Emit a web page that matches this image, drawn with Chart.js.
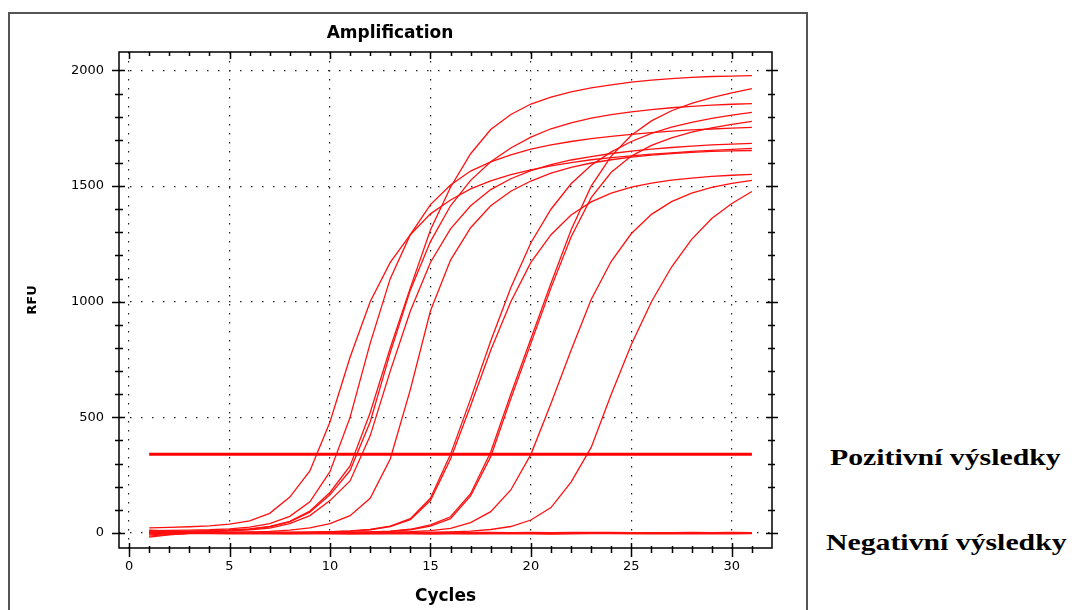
<!DOCTYPE html>
<html>
<head>
<meta charset="utf-8">
<script src="https://cdn.jsdelivr.net/npm/chart.js@4.4.1/dist/chart.umd.min.js"></script>
<style>
  html, body { margin: 0; padding: 0; background: #fff; overflow: hidden; width: 1074px; height: 610px; }
  #frame { position: absolute; left: 8px; top: 12px; width: 800px; height: 620px; border: 2px solid #555; box-sizing: border-box; }
  #wrap { position: absolute; left: 8px; top: 12px; width: 800px; height: 598px; }
  .side { position: absolute; font-family: "Liberation Serif", serif; font-weight: bold; font-size: 24px; line-height: 24px; color: #000; white-space: nowrap; transform: scaleX(1.24); transform-origin: left center; }
  #pos { left: 830px; top: 445px; }
  #neg { left: 826px; top: 530px; }
</style>
</head>
<body>
<div id="frame"></div>
<div id="wrap"><canvas id="chart"></canvas></div>
<div class="side" id="pos">Pozitivní výsledky</div>
<div class="side" id="neg">Negativní výsledky</div>
<script>
// cycle numbers and RFU readings per well
const cycles = [1, 2, 3, 4, 5, 6, 7, 8, 9, 10, 11, 12, 13, 14, 15, 16, 17, 18, 19, 20, 21, 22, 23, 24, 25, 26, 27, 28, 29, 30, 31];

const sampleA = [22, 24, 27, 31, 38, 52, 85, 155, 268, 480, 760, 1000, 1170, 1290, 1380, 1440, 1488, 1523, 1550, 1570, 1588, 1602, 1614, 1623, 1631, 1638, 1644, 1650, 1655, 1659, 1663];
const sampleB = [10, 11, 12, 14, 18, 25, 40, 72, 135, 265, 500, 820, 1100, 1290, 1420, 1505, 1565, 1605, 1635, 1660, 1678, 1693, 1705, 1715, 1724, 1731, 1738, 1743, 1747, 1751, 1754];
const sampleC = [6, 7, 8, 10, 13, 18, 28, 50, 95, 175, 290, 520, 800, 1060, 1310, 1495, 1640, 1745, 1810, 1855, 1885, 1908, 1925, 1938, 1950, 1958, 1965, 1970, 1974, 1976, 1978];
const sampleD = [4, 5, 6, 8, 11, 16, 26, 48, 90, 165, 270, 480, 780, 1050, 1260, 1415, 1525, 1605, 1665, 1712, 1748, 1774, 1794, 1809, 1821, 1831, 1839, 1845, 1850, 1854, 1857];
const sampleE = [2, 3, 4, 6, 9, 13, 21, 40, 75, 140, 225, 420, 700, 960, 1170, 1315, 1415, 1485, 1532, 1567, 1593, 1613, 1628, 1641, 1651, 1660, 1667, 1673, 1678, 1682, 1685];
const sampleF = [-18, -8, -2, 0, 2, 4, 7, 12, 22, 40, 75, 150, 320, 620, 960, 1180, 1320, 1415, 1478, 1522, 1556, 1581, 1600, 1614, 1625, 1634, 1641, 1646, 1650, 1652, 1654];
const sampleG = [3, 2, 2, 1, 1, 2, 2, 3, 4, 6, 9, 15, 30, 62, 150, 340, 580, 830, 1060, 1255, 1400, 1510, 1590, 1648, 1693, 1728, 1755, 1776, 1793, 1807, 1819];
const sampleH = [-2, -1, 0, 0, 1, 1, 2, 2, 3, 5, 8, 14, 28, 58, 140, 320, 550, 790, 1000, 1170, 1290, 1375, 1432, 1470, 1496, 1513, 1526, 1535, 1542, 1547, 1551];
const sampleI = [1, 0, 0, -1, 0, 0, 1, 1, 2, 2, 3, 5, 8, 16, 35, 70, 170, 350, 600, 840, 1080, 1310, 1500, 1630, 1720, 1782, 1826, 1858, 1883, 1903, 1922];
const sampleJ = [0, -1, -1, 0, 0, 1, 0, 1, 1, 2, 3, 4, 7, 14, 30, 62, 160, 330, 580, 820, 1060, 1280, 1450, 1560, 1630, 1676, 1709, 1733, 1752, 1767, 1780];
const sampleK = [2, 1, 1, 0, 0, 0, 1, 1, 1, 2, 2, 3, 4, 6, 10, 20, 45, 92, 186, 340, 560, 790, 1010, 1175, 1295, 1378, 1433, 1470, 1495, 1512, 1525];
const sampleL = [-4, -2, -1, -1, 0, 0, 0, 1, 1, 1, 1, 2, 2, 3, 3, 5, 8, 15, 28, 56, 110, 220, 370, 600, 815, 1000, 1150, 1270, 1360, 1425, 1477];

const negative1 = [5, 3, 2, 1, 0, 1, 0, -1, 0, 1, 0, -1, 0, 1, 2, 1, 0, -1, 0, 1, 0, -1, -2, -1, 0, 1, 0, -1, 0, 1, 0];
const negative2 = [-8, -4, -2, -1, -2, -1, -2, -3, -2, -1, -2, -3, -2, -1, -1, -2, -3, -2, -1, -2, -3, -2, -1, -2, -3, -2, -1, -2, -1, -2, -1];
const negative3 = [12, 8, 6, 5, 4, 4, 3, 3, 2, 3, 2, 2, 1, 2, 1, 2, 3, 2, 1, 2, 1, 2, 3, 2, 1, 0, 1, 2, 1, 2, 1];
const negative4 = [-14, -6, -3, -3, -4, -3, -4, -4, -3, -4, -5, -4, -3, -4, -5, -4, -3, -4, -3, -4, -5, -4, -3, -2, -3, -4, -3, -4, -3, -4, -3];

// threshold line
const thresholdLevel = 340;
const thresholdCycles = [1, 31];

// axis ticks
const xLabels = [0, 5, 10, 15, 20, 25, 30];
const yLabels = [0, 500, 1000, 1500, 2000];
const xMinorStep = 1, xMinorLast = 31;
const yMinorStep = 100, yMinorLast = 2000;

const positives = [sampleA, sampleB, sampleC, sampleD, sampleE, sampleF, sampleG, sampleH, sampleI, sampleJ, sampleK, sampleL];
const negatives = [negative1, negative2, negative3, negative4];

function toPoints(values) {
  return cycles.map((c, i) => ({ x: c, y: values[i] }));
}

const datasets = [];
datasets.push({
  data: thresholdCycles.map(c => ({ x: c, y: thresholdLevel })),
  borderColor: '#ff0000',
  borderWidth: 3
});
positives.forEach(v => datasets.push({ data: toPoints(v), borderColor: '#ff1010', borderWidth: 1.3 }));
negatives.forEach(v => datasets.push({ data: toPoints(v), borderColor: '#ff1010', borderWidth: 1.3 }));

// box round the plot with inner/outer tick marks
const axesFrame = {
  id: 'axesFrame',
  afterDraw(chart) {
    const { ctx, chartArea: a, scales: { x, y } } = chart;
    ctx.save();
    ctx.strokeStyle = '#000';
    ctx.lineWidth = 1.5;
    ctx.strokeRect(a.left, a.top, a.right - a.left, a.bottom - a.top);
    ctx.beginPath();
    for (let v = 0; v <= xMinorLast; v += xMinorStep) {
      const px = Math.round(x.getPixelForValue(v)) + 0.5;
      const major = v % 5 === 0;
      ctx.moveTo(px, a.bottom - (major ? 5 : 2));
      ctx.lineTo(px, a.bottom + (major ? 9 : 5));
      ctx.moveTo(px, a.top);
      ctx.lineTo(px, a.top + (major ? 7 : 4));
    }
    for (let v = 0; v <= yMinorLast; v += yMinorStep) {
      const py = Math.round(y.getPixelForValue(v)) + 0.5;
      const major = v % 500 === 0;
      ctx.moveTo(a.left - (major ? 7 : 4), py);
      ctx.lineTo(a.left + (major ? 6 : 4), py);
      ctx.moveTo(a.right - (major ? 6 : 4), py);
      ctx.lineTo(a.right + (major ? 6 : 3), py);
    }
    ctx.stroke();
    ctx.restore();
  }
};

const tickFont = { family: 'DejaVu Sans', size: 13 };
const titleFont = { family: 'DejaVu Sans', size: 17, weight: 'bold' };

new Chart(document.getElementById('chart'), {
  type: 'line',
  data: { datasets },
  options: {
    responsive: true,
    maintainAspectRatio: false,
    animation: false,
    layout: { padding: { left: 0, right: 36, top: 0, bottom: 0 } },
    elements: { point: { radius: 0 }, line: { tension: 0, fill: false } },
    plugins: {
      legend: { display: false },
      tooltip: { enabled: false },
      title: {
        display: true,
        text: 'Amplification',
        color: '#000',
        font: titleFont,
        padding: { top: 11.8, bottom: 7.8 }
      }
    },
    scales: {
      x: {
        type: 'linear',
        min: -0.5,
        max: 32,
        afterBuildTicks: s => { s.ticks = xLabels.map(v => ({ value: v })); },
        afterFit: s => { s.height = 62; },
        ticks: { color: '#000', font: tickFont, padding: 11, maxRotation: 0, autoSkip: false, callback: v => String(v) },
        grid: { color: '#222', lineWidth: 1.2, drawTicks: false },
        border: { display: false, dash: [1.5, 7.5] },
        title: { display: true, text: 'Cycles', color: '#000', font: titleFont, padding: { top: 0, bottom: 3 } }
      },
      y: {
        min: -65,
        max: 2080,
        afterBuildTicks: s => { s.ticks = yLabels.map(v => ({ value: v })); },
        afterFit: s => { s.width = 111; },
        ticks: { color: '#000', font: tickFont, padding: 15, callback: v => String(v) },
        grid: { color: '#222', lineWidth: 1.2, drawTicks: false },
        border: { display: false, dash: [1.5, 9.5] },
        title: { display: true, text: 'RFU', color: '#000', font: { family: 'DejaVu Sans', size: 13, weight: 'bold' }, padding: { top: 17, bottom: 0 } }
      }
    }
  },
  plugins: [axesFrame]
});
</script>
</body>
</html>
